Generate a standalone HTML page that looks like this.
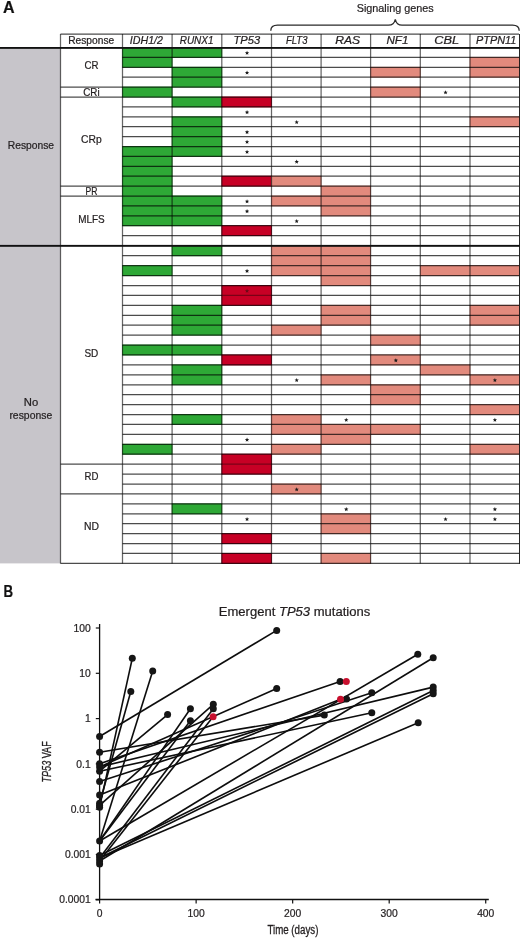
<!DOCTYPE html>
<html><head><meta charset="utf-8"><title>Figure</title>
<style>html,body{margin:0;padding:0;background:#fff;}svg{display:block;will-change:transform;}</style>
</head><body>
<svg width="520" height="938" viewBox="0 0 520 938">
<rect width="520" height="938" fill="#fff"/>
<rect x="0" y="48" width="60.5" height="515.4" fill="#c7c5ca"/>
<rect x="122.10" y="47.00" width="50.40" height="10.90" fill="#2ea836"/>
<rect x="171.70" y="47.00" width="50.50" height="10.90" fill="#2ea836"/>
<rect x="122.10" y="56.90" width="50.40" height="10.90" fill="#2ea836"/>
<rect x="469.60" y="56.90" width="49.80" height="10.90" fill="#e28a7d"/>
<rect x="171.70" y="66.80" width="50.50" height="10.90" fill="#2ea836"/>
<rect x="370.20" y="66.80" width="50.50" height="10.90" fill="#e28a7d"/>
<rect x="469.60" y="66.80" width="49.80" height="10.90" fill="#e28a7d"/>
<rect x="171.70" y="76.70" width="50.50" height="10.90" fill="#2ea836"/>
<rect x="122.10" y="86.60" width="50.40" height="10.90" fill="#2ea836"/>
<rect x="370.20" y="86.60" width="50.50" height="10.90" fill="#e28a7d"/>
<rect x="171.70" y="96.50" width="50.50" height="10.90" fill="#2ea836"/>
<rect x="221.40" y="96.50" width="50.50" height="10.90" fill="#c70025"/>
<rect x="171.70" y="116.30" width="50.50" height="10.90" fill="#2ea836"/>
<rect x="469.60" y="116.30" width="49.80" height="10.90" fill="#e28a7d"/>
<rect x="171.70" y="126.20" width="50.50" height="10.90" fill="#2ea836"/>
<rect x="171.70" y="136.10" width="50.50" height="10.90" fill="#2ea836"/>
<rect x="122.10" y="146.00" width="50.40" height="10.90" fill="#2ea836"/>
<rect x="171.70" y="146.00" width="50.50" height="10.90" fill="#2ea836"/>
<rect x="122.10" y="155.90" width="50.40" height="10.90" fill="#2ea836"/>
<rect x="122.10" y="165.80" width="50.40" height="10.90" fill="#2ea836"/>
<rect x="122.10" y="175.70" width="50.40" height="10.90" fill="#2ea836"/>
<rect x="221.40" y="175.70" width="50.50" height="10.90" fill="#c70025"/>
<rect x="271.10" y="175.70" width="50.40" height="10.90" fill="#e28a7d"/>
<rect x="122.10" y="185.60" width="50.40" height="10.90" fill="#2ea836"/>
<rect x="320.70" y="185.60" width="50.30" height="10.90" fill="#e28a7d"/>
<rect x="122.10" y="195.50" width="50.40" height="10.90" fill="#2ea836"/>
<rect x="171.70" y="195.50" width="50.50" height="10.90" fill="#2ea836"/>
<rect x="271.10" y="195.50" width="50.40" height="10.90" fill="#e28a7d"/>
<rect x="320.70" y="195.50" width="50.30" height="10.90" fill="#e28a7d"/>
<rect x="122.10" y="205.40" width="50.40" height="10.90" fill="#2ea836"/>
<rect x="171.70" y="205.40" width="50.50" height="10.90" fill="#2ea836"/>
<rect x="320.70" y="205.40" width="50.30" height="10.90" fill="#e28a7d"/>
<rect x="122.10" y="215.30" width="50.40" height="10.90" fill="#2ea836"/>
<rect x="171.70" y="215.30" width="50.50" height="10.90" fill="#2ea836"/>
<rect x="221.40" y="225.20" width="50.50" height="10.90" fill="#c70025"/>
<rect x="171.70" y="245.30" width="50.50" height="10.93" fill="#2ea836"/>
<rect x="271.10" y="245.30" width="50.40" height="10.93" fill="#e28a7d"/>
<rect x="320.70" y="245.30" width="50.30" height="10.93" fill="#e28a7d"/>
<rect x="271.10" y="255.23" width="50.40" height="10.93" fill="#e28a7d"/>
<rect x="320.70" y="255.23" width="50.30" height="10.93" fill="#e28a7d"/>
<rect x="122.10" y="265.15" width="50.40" height="10.92" fill="#2ea836"/>
<rect x="271.10" y="265.15" width="50.40" height="10.92" fill="#e28a7d"/>
<rect x="320.70" y="265.15" width="50.30" height="10.92" fill="#e28a7d"/>
<rect x="419.90" y="265.15" width="50.50" height="10.92" fill="#e28a7d"/>
<rect x="469.60" y="265.15" width="49.80" height="10.92" fill="#e28a7d"/>
<rect x="320.70" y="275.07" width="50.30" height="10.93" fill="#e28a7d"/>
<rect x="221.40" y="285.00" width="50.50" height="10.93" fill="#c70025"/>
<rect x="221.40" y="294.93" width="50.50" height="10.93" fill="#c70025"/>
<rect x="171.70" y="304.85" width="50.50" height="10.93" fill="#2ea836"/>
<rect x="320.70" y="304.85" width="50.30" height="10.93" fill="#e28a7d"/>
<rect x="469.60" y="304.85" width="49.80" height="10.93" fill="#e28a7d"/>
<rect x="171.70" y="314.78" width="50.50" height="10.93" fill="#2ea836"/>
<rect x="320.70" y="314.78" width="50.30" height="10.93" fill="#e28a7d"/>
<rect x="469.60" y="314.78" width="49.80" height="10.93" fill="#e28a7d"/>
<rect x="171.70" y="324.70" width="50.50" height="10.92" fill="#2ea836"/>
<rect x="271.10" y="324.70" width="50.40" height="10.92" fill="#e28a7d"/>
<rect x="370.20" y="334.62" width="50.50" height="10.93" fill="#e28a7d"/>
<rect x="122.10" y="344.55" width="50.40" height="10.93" fill="#2ea836"/>
<rect x="171.70" y="344.55" width="50.50" height="10.93" fill="#2ea836"/>
<rect x="221.40" y="354.48" width="50.50" height="10.93" fill="#c70025"/>
<rect x="370.20" y="354.48" width="50.50" height="10.93" fill="#e28a7d"/>
<rect x="171.70" y="364.40" width="50.50" height="10.93" fill="#2ea836"/>
<rect x="419.90" y="364.40" width="50.50" height="10.93" fill="#e28a7d"/>
<rect x="171.70" y="374.33" width="50.50" height="10.92" fill="#2ea836"/>
<rect x="320.70" y="374.33" width="50.30" height="10.92" fill="#e28a7d"/>
<rect x="469.60" y="374.33" width="49.80" height="10.92" fill="#e28a7d"/>
<rect x="370.20" y="384.25" width="50.50" height="10.93" fill="#e28a7d"/>
<rect x="370.20" y="394.18" width="50.50" height="10.93" fill="#e28a7d"/>
<rect x="469.60" y="404.10" width="49.80" height="10.93" fill="#e28a7d"/>
<rect x="171.70" y="414.03" width="50.50" height="10.93" fill="#2ea836"/>
<rect x="271.10" y="414.03" width="50.40" height="10.93" fill="#e28a7d"/>
<rect x="271.10" y="423.95" width="50.40" height="10.92" fill="#e28a7d"/>
<rect x="320.70" y="423.95" width="50.30" height="10.92" fill="#e28a7d"/>
<rect x="370.20" y="423.95" width="50.50" height="10.92" fill="#e28a7d"/>
<rect x="320.70" y="433.88" width="50.30" height="10.93" fill="#e28a7d"/>
<rect x="122.10" y="443.80" width="50.40" height="10.93" fill="#2ea836"/>
<rect x="271.10" y="443.80" width="50.40" height="10.93" fill="#e28a7d"/>
<rect x="469.60" y="443.80" width="49.80" height="10.93" fill="#e28a7d"/>
<rect x="221.40" y="453.73" width="50.50" height="10.93" fill="#c70025"/>
<rect x="221.40" y="463.65" width="50.50" height="10.93" fill="#c70025"/>
<rect x="271.10" y="483.50" width="50.40" height="10.93" fill="#e28a7d"/>
<rect x="171.70" y="503.35" width="50.50" height="10.93" fill="#2ea836"/>
<rect x="320.70" y="513.28" width="50.30" height="10.92" fill="#e28a7d"/>
<rect x="320.70" y="523.20" width="50.30" height="10.92" fill="#e28a7d"/>
<rect x="221.40" y="533.12" width="50.50" height="10.92" fill="#c70025"/>
<rect x="221.40" y="552.98" width="50.50" height="10.93" fill="#c70025"/>
<rect x="320.70" y="552.98" width="50.30" height="10.93" fill="#e28a7d"/>
<line x1="122.50" y1="57.40" x2="172.10" y2="57.40" stroke="rgba(0,0,0,0.7)" stroke-width="1.25"/>
<line x1="172.10" y1="57.40" x2="221.80" y2="57.40" stroke="rgba(0,0,0,0.7)" stroke-width="1.25"/>
<line x1="221.80" y1="57.40" x2="271.50" y2="57.40" stroke="rgba(0,0,0,0.7)" stroke-width="1.25"/>
<line x1="271.50" y1="57.40" x2="321.10" y2="57.40" stroke="rgba(0,0,0,0.7)" stroke-width="1.25"/>
<line x1="321.10" y1="57.40" x2="370.60" y2="57.40" stroke="rgba(0,0,0,0.7)" stroke-width="1.25"/>
<line x1="370.60" y1="57.40" x2="420.30" y2="57.40" stroke="rgba(0,0,0,0.7)" stroke-width="1.25"/>
<line x1="420.30" y1="57.40" x2="470.00" y2="57.40" stroke="rgba(0,0,0,0.7)" stroke-width="1.25"/>
<line x1="470.00" y1="57.40" x2="519.00" y2="57.40" stroke="rgba(0,0,0,0.7)" stroke-width="1.25"/>
<line x1="122.50" y1="67.30" x2="172.10" y2="67.30" stroke="rgba(0,0,0,0.7)" stroke-width="1.25"/>
<line x1="172.10" y1="67.30" x2="221.80" y2="67.30" stroke="rgba(0,0,0,0.7)" stroke-width="1.25"/>
<line x1="221.80" y1="67.30" x2="271.50" y2="67.30" stroke="rgba(0,0,0,0.7)" stroke-width="1.25"/>
<line x1="271.50" y1="67.30" x2="321.10" y2="67.30" stroke="rgba(0,0,0,0.7)" stroke-width="1.25"/>
<line x1="321.10" y1="67.30" x2="370.60" y2="67.30" stroke="rgba(0,0,0,0.7)" stroke-width="1.25"/>
<line x1="370.60" y1="67.30" x2="420.30" y2="67.30" stroke="rgba(0,0,0,0.7)" stroke-width="1.25"/>
<line x1="420.30" y1="67.30" x2="470.00" y2="67.30" stroke="rgba(0,0,0,0.7)" stroke-width="1.25"/>
<line x1="470.00" y1="67.30" x2="519.00" y2="67.30" stroke="rgba(0,0,0,0.7)" stroke-width="1.25"/>
<line x1="122.50" y1="77.20" x2="172.10" y2="77.20" stroke="rgba(0,0,0,0.7)" stroke-width="1.25"/>
<line x1="172.10" y1="77.20" x2="221.80" y2="77.20" stroke="rgba(0,0,0,0.7)" stroke-width="1.25"/>
<line x1="221.80" y1="77.20" x2="271.50" y2="77.20" stroke="rgba(0,0,0,0.7)" stroke-width="1.25"/>
<line x1="271.50" y1="77.20" x2="321.10" y2="77.20" stroke="rgba(0,0,0,0.7)" stroke-width="1.25"/>
<line x1="321.10" y1="77.20" x2="370.60" y2="77.20" stroke="rgba(0,0,0,0.7)" stroke-width="1.25"/>
<line x1="370.60" y1="77.20" x2="420.30" y2="77.20" stroke="rgba(0,0,0,0.7)" stroke-width="1.25"/>
<line x1="420.30" y1="77.20" x2="470.00" y2="77.20" stroke="rgba(0,0,0,0.7)" stroke-width="1.25"/>
<line x1="470.00" y1="77.20" x2="519.00" y2="77.20" stroke="rgba(0,0,0,0.7)" stroke-width="1.25"/>
<line x1="122.50" y1="87.10" x2="172.10" y2="87.10" stroke="rgba(0,0,0,0.7)" stroke-width="1.25"/>
<line x1="172.10" y1="87.10" x2="221.80" y2="87.10" stroke="rgba(0,0,0,0.7)" stroke-width="1.25"/>
<line x1="221.80" y1="87.10" x2="271.50" y2="87.10" stroke="rgba(0,0,0,0.7)" stroke-width="1.25"/>
<line x1="271.50" y1="87.10" x2="321.10" y2="87.10" stroke="rgba(0,0,0,0.7)" stroke-width="1.25"/>
<line x1="321.10" y1="87.10" x2="370.60" y2="87.10" stroke="rgba(0,0,0,0.7)" stroke-width="1.25"/>
<line x1="370.60" y1="87.10" x2="420.30" y2="87.10" stroke="rgba(0,0,0,0.7)" stroke-width="1.25"/>
<line x1="420.30" y1="87.10" x2="470.00" y2="87.10" stroke="rgba(0,0,0,0.7)" stroke-width="1.25"/>
<line x1="470.00" y1="87.10" x2="519.00" y2="87.10" stroke="rgba(0,0,0,0.7)" stroke-width="1.25"/>
<line x1="122.50" y1="97.00" x2="172.10" y2="97.00" stroke="rgba(0,0,0,0.7)" stroke-width="1.25"/>
<line x1="172.10" y1="97.00" x2="221.80" y2="97.00" stroke="rgba(0,0,0,0.7)" stroke-width="1.25"/>
<line x1="221.80" y1="97.00" x2="271.50" y2="97.00" stroke="rgba(0,0,0,0.7)" stroke-width="1.25"/>
<line x1="271.50" y1="97.00" x2="321.10" y2="97.00" stroke="rgba(0,0,0,0.7)" stroke-width="1.25"/>
<line x1="321.10" y1="97.00" x2="370.60" y2="97.00" stroke="rgba(0,0,0,0.7)" stroke-width="1.25"/>
<line x1="370.60" y1="97.00" x2="420.30" y2="97.00" stroke="rgba(0,0,0,0.7)" stroke-width="1.25"/>
<line x1="420.30" y1="97.00" x2="470.00" y2="97.00" stroke="rgba(0,0,0,0.7)" stroke-width="1.25"/>
<line x1="470.00" y1="97.00" x2="519.00" y2="97.00" stroke="rgba(0,0,0,0.7)" stroke-width="1.25"/>
<line x1="122.50" y1="106.90" x2="172.10" y2="106.90" stroke="rgba(0,0,0,0.7)" stroke-width="1.25"/>
<line x1="172.10" y1="106.90" x2="221.80" y2="106.90" stroke="rgba(0,0,0,0.7)" stroke-width="1.25"/>
<line x1="221.80" y1="106.90" x2="271.50" y2="106.90" stroke="rgba(0,0,0,0.7)" stroke-width="1.25"/>
<line x1="271.50" y1="106.90" x2="321.10" y2="106.90" stroke="rgba(0,0,0,0.7)" stroke-width="1.25"/>
<line x1="321.10" y1="106.90" x2="370.60" y2="106.90" stroke="rgba(0,0,0,0.7)" stroke-width="1.25"/>
<line x1="370.60" y1="106.90" x2="420.30" y2="106.90" stroke="rgba(0,0,0,0.7)" stroke-width="1.25"/>
<line x1="420.30" y1="106.90" x2="470.00" y2="106.90" stroke="rgba(0,0,0,0.7)" stroke-width="1.25"/>
<line x1="470.00" y1="106.90" x2="519.00" y2="106.90" stroke="rgba(0,0,0,0.7)" stroke-width="1.25"/>
<line x1="122.50" y1="116.80" x2="172.10" y2="116.80" stroke="rgba(0,0,0,0.7)" stroke-width="1.25"/>
<line x1="172.10" y1="116.80" x2="221.80" y2="116.80" stroke="rgba(0,0,0,0.7)" stroke-width="1.25"/>
<line x1="221.80" y1="116.80" x2="271.50" y2="116.80" stroke="rgba(0,0,0,0.7)" stroke-width="1.25"/>
<line x1="271.50" y1="116.80" x2="321.10" y2="116.80" stroke="rgba(0,0,0,0.7)" stroke-width="1.25"/>
<line x1="321.10" y1="116.80" x2="370.60" y2="116.80" stroke="rgba(0,0,0,0.7)" stroke-width="1.25"/>
<line x1="370.60" y1="116.80" x2="420.30" y2="116.80" stroke="rgba(0,0,0,0.7)" stroke-width="1.25"/>
<line x1="420.30" y1="116.80" x2="470.00" y2="116.80" stroke="rgba(0,0,0,0.7)" stroke-width="1.25"/>
<line x1="470.00" y1="116.80" x2="519.00" y2="116.80" stroke="rgba(0,0,0,0.7)" stroke-width="1.25"/>
<line x1="122.50" y1="126.70" x2="172.10" y2="126.70" stroke="rgba(0,0,0,0.7)" stroke-width="1.25"/>
<line x1="172.10" y1="126.70" x2="221.80" y2="126.70" stroke="rgba(0,0,0,0.7)" stroke-width="1.25"/>
<line x1="221.80" y1="126.70" x2="271.50" y2="126.70" stroke="rgba(0,0,0,0.7)" stroke-width="1.25"/>
<line x1="271.50" y1="126.70" x2="321.10" y2="126.70" stroke="rgba(0,0,0,0.7)" stroke-width="1.25"/>
<line x1="321.10" y1="126.70" x2="370.60" y2="126.70" stroke="rgba(0,0,0,0.7)" stroke-width="1.25"/>
<line x1="370.60" y1="126.70" x2="420.30" y2="126.70" stroke="rgba(0,0,0,0.7)" stroke-width="1.25"/>
<line x1="420.30" y1="126.70" x2="470.00" y2="126.70" stroke="rgba(0,0,0,0.7)" stroke-width="1.25"/>
<line x1="470.00" y1="126.70" x2="519.00" y2="126.70" stroke="rgba(0,0,0,0.7)" stroke-width="1.25"/>
<line x1="122.50" y1="136.60" x2="172.10" y2="136.60" stroke="rgba(0,0,0,0.7)" stroke-width="1.25"/>
<line x1="172.10" y1="136.60" x2="221.80" y2="136.60" stroke="rgba(0,0,0,0.7)" stroke-width="1.25"/>
<line x1="221.80" y1="136.60" x2="271.50" y2="136.60" stroke="rgba(0,0,0,0.7)" stroke-width="1.25"/>
<line x1="271.50" y1="136.60" x2="321.10" y2="136.60" stroke="rgba(0,0,0,0.7)" stroke-width="1.25"/>
<line x1="321.10" y1="136.60" x2="370.60" y2="136.60" stroke="rgba(0,0,0,0.7)" stroke-width="1.25"/>
<line x1="370.60" y1="136.60" x2="420.30" y2="136.60" stroke="rgba(0,0,0,0.7)" stroke-width="1.25"/>
<line x1="420.30" y1="136.60" x2="470.00" y2="136.60" stroke="rgba(0,0,0,0.7)" stroke-width="1.25"/>
<line x1="470.00" y1="136.60" x2="519.00" y2="136.60" stroke="rgba(0,0,0,0.7)" stroke-width="1.25"/>
<line x1="122.50" y1="146.50" x2="172.10" y2="146.50" stroke="rgba(0,0,0,0.7)" stroke-width="1.25"/>
<line x1="172.10" y1="146.50" x2="221.80" y2="146.50" stroke="rgba(0,0,0,0.7)" stroke-width="1.25"/>
<line x1="221.80" y1="146.50" x2="271.50" y2="146.50" stroke="rgba(0,0,0,0.7)" stroke-width="1.25"/>
<line x1="271.50" y1="146.50" x2="321.10" y2="146.50" stroke="rgba(0,0,0,0.7)" stroke-width="1.25"/>
<line x1="321.10" y1="146.50" x2="370.60" y2="146.50" stroke="rgba(0,0,0,0.7)" stroke-width="1.25"/>
<line x1="370.60" y1="146.50" x2="420.30" y2="146.50" stroke="rgba(0,0,0,0.7)" stroke-width="1.25"/>
<line x1="420.30" y1="146.50" x2="470.00" y2="146.50" stroke="rgba(0,0,0,0.7)" stroke-width="1.25"/>
<line x1="470.00" y1="146.50" x2="519.00" y2="146.50" stroke="rgba(0,0,0,0.7)" stroke-width="1.25"/>
<line x1="122.50" y1="156.40" x2="172.10" y2="156.40" stroke="rgba(0,0,0,0.7)" stroke-width="1.25"/>
<line x1="172.10" y1="156.40" x2="221.80" y2="156.40" stroke="rgba(0,0,0,0.7)" stroke-width="1.25"/>
<line x1="221.80" y1="156.40" x2="271.50" y2="156.40" stroke="rgba(0,0,0,0.7)" stroke-width="1.25"/>
<line x1="271.50" y1="156.40" x2="321.10" y2="156.40" stroke="rgba(0,0,0,0.7)" stroke-width="1.25"/>
<line x1="321.10" y1="156.40" x2="370.60" y2="156.40" stroke="rgba(0,0,0,0.7)" stroke-width="1.25"/>
<line x1="370.60" y1="156.40" x2="420.30" y2="156.40" stroke="rgba(0,0,0,0.7)" stroke-width="1.25"/>
<line x1="420.30" y1="156.40" x2="470.00" y2="156.40" stroke="rgba(0,0,0,0.7)" stroke-width="1.25"/>
<line x1="470.00" y1="156.40" x2="519.00" y2="156.40" stroke="rgba(0,0,0,0.7)" stroke-width="1.25"/>
<line x1="122.50" y1="166.30" x2="172.10" y2="166.30" stroke="rgba(0,0,0,0.7)" stroke-width="1.25"/>
<line x1="172.10" y1="166.30" x2="221.80" y2="166.30" stroke="rgba(0,0,0,0.7)" stroke-width="1.25"/>
<line x1="221.80" y1="166.30" x2="271.50" y2="166.30" stroke="rgba(0,0,0,0.7)" stroke-width="1.25"/>
<line x1="271.50" y1="166.30" x2="321.10" y2="166.30" stroke="rgba(0,0,0,0.7)" stroke-width="1.25"/>
<line x1="321.10" y1="166.30" x2="370.60" y2="166.30" stroke="rgba(0,0,0,0.7)" stroke-width="1.25"/>
<line x1="370.60" y1="166.30" x2="420.30" y2="166.30" stroke="rgba(0,0,0,0.7)" stroke-width="1.25"/>
<line x1="420.30" y1="166.30" x2="470.00" y2="166.30" stroke="rgba(0,0,0,0.7)" stroke-width="1.25"/>
<line x1="470.00" y1="166.30" x2="519.00" y2="166.30" stroke="rgba(0,0,0,0.7)" stroke-width="1.25"/>
<line x1="122.50" y1="176.20" x2="172.10" y2="176.20" stroke="rgba(0,0,0,0.7)" stroke-width="1.25"/>
<line x1="172.10" y1="176.20" x2="221.80" y2="176.20" stroke="rgba(0,0,0,0.7)" stroke-width="1.25"/>
<line x1="221.80" y1="176.20" x2="271.50" y2="176.20" stroke="rgba(0,0,0,0.7)" stroke-width="1.25"/>
<line x1="271.50" y1="176.20" x2="321.10" y2="176.20" stroke="rgba(0,0,0,0.7)" stroke-width="1.25"/>
<line x1="321.10" y1="176.20" x2="370.60" y2="176.20" stroke="rgba(0,0,0,0.7)" stroke-width="1.25"/>
<line x1="370.60" y1="176.20" x2="420.30" y2="176.20" stroke="rgba(0,0,0,0.7)" stroke-width="1.25"/>
<line x1="420.30" y1="176.20" x2="470.00" y2="176.20" stroke="rgba(0,0,0,0.7)" stroke-width="1.25"/>
<line x1="470.00" y1="176.20" x2="519.00" y2="176.20" stroke="rgba(0,0,0,0.7)" stroke-width="1.25"/>
<line x1="122.50" y1="186.10" x2="172.10" y2="186.10" stroke="rgba(0,0,0,0.7)" stroke-width="1.25"/>
<line x1="172.10" y1="186.10" x2="221.80" y2="186.10" stroke="rgba(0,0,0,0.7)" stroke-width="1.25"/>
<line x1="221.80" y1="186.10" x2="271.50" y2="186.10" stroke="rgba(0,0,0,0.7)" stroke-width="1.25"/>
<line x1="271.50" y1="186.10" x2="321.10" y2="186.10" stroke="rgba(0,0,0,0.7)" stroke-width="1.25"/>
<line x1="321.10" y1="186.10" x2="370.60" y2="186.10" stroke="rgba(0,0,0,0.7)" stroke-width="1.25"/>
<line x1="370.60" y1="186.10" x2="420.30" y2="186.10" stroke="rgba(0,0,0,0.7)" stroke-width="1.25"/>
<line x1="420.30" y1="186.10" x2="470.00" y2="186.10" stroke="rgba(0,0,0,0.7)" stroke-width="1.25"/>
<line x1="470.00" y1="186.10" x2="519.00" y2="186.10" stroke="rgba(0,0,0,0.7)" stroke-width="1.25"/>
<line x1="122.50" y1="196.00" x2="172.10" y2="196.00" stroke="rgba(0,0,0,0.7)" stroke-width="1.25"/>
<line x1="172.10" y1="196.00" x2="221.80" y2="196.00" stroke="rgba(0,0,0,0.7)" stroke-width="1.25"/>
<line x1="221.80" y1="196.00" x2="271.50" y2="196.00" stroke="rgba(0,0,0,0.7)" stroke-width="1.25"/>
<line x1="271.50" y1="196.00" x2="321.10" y2="196.00" stroke="rgba(0,0,0,0.7)" stroke-width="1.25"/>
<line x1="321.10" y1="196.00" x2="370.60" y2="196.00" stroke="rgba(0,0,0,0.7)" stroke-width="1.25"/>
<line x1="370.60" y1="196.00" x2="420.30" y2="196.00" stroke="rgba(0,0,0,0.7)" stroke-width="1.25"/>
<line x1="420.30" y1="196.00" x2="470.00" y2="196.00" stroke="rgba(0,0,0,0.7)" stroke-width="1.25"/>
<line x1="470.00" y1="196.00" x2="519.00" y2="196.00" stroke="rgba(0,0,0,0.7)" stroke-width="1.25"/>
<line x1="122.50" y1="205.90" x2="172.10" y2="205.90" stroke="rgba(0,0,0,0.7)" stroke-width="1.25"/>
<line x1="172.10" y1="205.90" x2="221.80" y2="205.90" stroke="rgba(0,0,0,0.7)" stroke-width="1.25"/>
<line x1="221.80" y1="205.90" x2="271.50" y2="205.90" stroke="rgba(0,0,0,0.7)" stroke-width="1.25"/>
<line x1="271.50" y1="205.90" x2="321.10" y2="205.90" stroke="rgba(0,0,0,0.7)" stroke-width="1.25"/>
<line x1="321.10" y1="205.90" x2="370.60" y2="205.90" stroke="rgba(0,0,0,0.7)" stroke-width="1.25"/>
<line x1="370.60" y1="205.90" x2="420.30" y2="205.90" stroke="rgba(0,0,0,0.7)" stroke-width="1.25"/>
<line x1="420.30" y1="205.90" x2="470.00" y2="205.90" stroke="rgba(0,0,0,0.7)" stroke-width="1.25"/>
<line x1="470.00" y1="205.90" x2="519.00" y2="205.90" stroke="rgba(0,0,0,0.7)" stroke-width="1.25"/>
<line x1="122.50" y1="215.80" x2="172.10" y2="215.80" stroke="rgba(0,0,0,0.7)" stroke-width="1.25"/>
<line x1="172.10" y1="215.80" x2="221.80" y2="215.80" stroke="rgba(0,0,0,0.7)" stroke-width="1.25"/>
<line x1="221.80" y1="215.80" x2="271.50" y2="215.80" stroke="rgba(0,0,0,0.7)" stroke-width="1.25"/>
<line x1="271.50" y1="215.80" x2="321.10" y2="215.80" stroke="rgba(0,0,0,0.7)" stroke-width="1.25"/>
<line x1="321.10" y1="215.80" x2="370.60" y2="215.80" stroke="rgba(0,0,0,0.7)" stroke-width="1.25"/>
<line x1="370.60" y1="215.80" x2="420.30" y2="215.80" stroke="rgba(0,0,0,0.7)" stroke-width="1.25"/>
<line x1="420.30" y1="215.80" x2="470.00" y2="215.80" stroke="rgba(0,0,0,0.7)" stroke-width="1.25"/>
<line x1="470.00" y1="215.80" x2="519.00" y2="215.80" stroke="rgba(0,0,0,0.7)" stroke-width="1.25"/>
<line x1="122.50" y1="225.70" x2="172.10" y2="225.70" stroke="rgba(0,0,0,0.7)" stroke-width="1.25"/>
<line x1="172.10" y1="225.70" x2="221.80" y2="225.70" stroke="rgba(0,0,0,0.7)" stroke-width="1.25"/>
<line x1="221.80" y1="225.70" x2="271.50" y2="225.70" stroke="rgba(0,0,0,0.7)" stroke-width="1.25"/>
<line x1="271.50" y1="225.70" x2="321.10" y2="225.70" stroke="rgba(0,0,0,0.7)" stroke-width="1.25"/>
<line x1="321.10" y1="225.70" x2="370.60" y2="225.70" stroke="rgba(0,0,0,0.7)" stroke-width="1.25"/>
<line x1="370.60" y1="225.70" x2="420.30" y2="225.70" stroke="rgba(0,0,0,0.7)" stroke-width="1.25"/>
<line x1="420.30" y1="225.70" x2="470.00" y2="225.70" stroke="rgba(0,0,0,0.7)" stroke-width="1.25"/>
<line x1="470.00" y1="225.70" x2="519.00" y2="225.70" stroke="rgba(0,0,0,0.7)" stroke-width="1.25"/>
<line x1="122.50" y1="235.60" x2="172.10" y2="235.60" stroke="rgba(0,0,0,0.7)" stroke-width="1.25"/>
<line x1="172.10" y1="235.60" x2="221.80" y2="235.60" stroke="rgba(0,0,0,0.7)" stroke-width="1.25"/>
<line x1="221.80" y1="235.60" x2="271.50" y2="235.60" stroke="rgba(0,0,0,0.7)" stroke-width="1.25"/>
<line x1="271.50" y1="235.60" x2="321.10" y2="235.60" stroke="rgba(0,0,0,0.7)" stroke-width="1.25"/>
<line x1="321.10" y1="235.60" x2="370.60" y2="235.60" stroke="rgba(0,0,0,0.7)" stroke-width="1.25"/>
<line x1="370.60" y1="235.60" x2="420.30" y2="235.60" stroke="rgba(0,0,0,0.7)" stroke-width="1.25"/>
<line x1="420.30" y1="235.60" x2="470.00" y2="235.60" stroke="rgba(0,0,0,0.7)" stroke-width="1.25"/>
<line x1="470.00" y1="235.60" x2="519.00" y2="235.60" stroke="rgba(0,0,0,0.7)" stroke-width="1.25"/>
<line x1="122.50" y1="255.73" x2="172.10" y2="255.73" stroke="rgba(0,0,0,0.7)" stroke-width="1.25"/>
<line x1="172.10" y1="255.73" x2="221.80" y2="255.73" stroke="rgba(0,0,0,0.7)" stroke-width="1.25"/>
<line x1="221.80" y1="255.73" x2="271.50" y2="255.73" stroke="rgba(0,0,0,0.7)" stroke-width="1.25"/>
<line x1="271.50" y1="255.73" x2="321.10" y2="255.73" stroke="rgba(0,0,0,0.7)" stroke-width="1.25"/>
<line x1="321.10" y1="255.73" x2="370.60" y2="255.73" stroke="rgba(0,0,0,0.7)" stroke-width="1.25"/>
<line x1="370.60" y1="255.73" x2="420.30" y2="255.73" stroke="rgba(0,0,0,0.7)" stroke-width="1.25"/>
<line x1="420.30" y1="255.73" x2="470.00" y2="255.73" stroke="rgba(0,0,0,0.7)" stroke-width="1.25"/>
<line x1="470.00" y1="255.73" x2="519.00" y2="255.73" stroke="rgba(0,0,0,0.7)" stroke-width="1.25"/>
<line x1="122.50" y1="265.65" x2="172.10" y2="265.65" stroke="rgba(0,0,0,0.7)" stroke-width="1.25"/>
<line x1="172.10" y1="265.65" x2="221.80" y2="265.65" stroke="rgba(0,0,0,0.7)" stroke-width="1.25"/>
<line x1="221.80" y1="265.65" x2="271.50" y2="265.65" stroke="rgba(0,0,0,0.7)" stroke-width="1.25"/>
<line x1="271.50" y1="265.65" x2="321.10" y2="265.65" stroke="rgba(0,0,0,0.7)" stroke-width="1.25"/>
<line x1="321.10" y1="265.65" x2="370.60" y2="265.65" stroke="rgba(0,0,0,0.7)" stroke-width="1.25"/>
<line x1="370.60" y1="265.65" x2="420.30" y2="265.65" stroke="rgba(0,0,0,0.7)" stroke-width="1.25"/>
<line x1="420.30" y1="265.65" x2="470.00" y2="265.65" stroke="rgba(0,0,0,0.7)" stroke-width="1.25"/>
<line x1="470.00" y1="265.65" x2="519.00" y2="265.65" stroke="rgba(0,0,0,0.7)" stroke-width="1.25"/>
<line x1="122.50" y1="275.57" x2="172.10" y2="275.57" stroke="rgba(0,0,0,0.7)" stroke-width="1.25"/>
<line x1="172.10" y1="275.57" x2="221.80" y2="275.57" stroke="rgba(0,0,0,0.7)" stroke-width="1.25"/>
<line x1="221.80" y1="275.57" x2="271.50" y2="275.57" stroke="rgba(0,0,0,0.7)" stroke-width="1.25"/>
<line x1="271.50" y1="275.57" x2="321.10" y2="275.57" stroke="rgba(0,0,0,0.7)" stroke-width="1.25"/>
<line x1="321.10" y1="275.57" x2="370.60" y2="275.57" stroke="rgba(0,0,0,0.7)" stroke-width="1.25"/>
<line x1="370.60" y1="275.57" x2="420.30" y2="275.57" stroke="rgba(0,0,0,0.7)" stroke-width="1.25"/>
<line x1="420.30" y1="275.57" x2="470.00" y2="275.57" stroke="rgba(0,0,0,0.7)" stroke-width="1.25"/>
<line x1="470.00" y1="275.57" x2="519.00" y2="275.57" stroke="rgba(0,0,0,0.7)" stroke-width="1.25"/>
<line x1="122.50" y1="285.50" x2="172.10" y2="285.50" stroke="rgba(0,0,0,0.7)" stroke-width="1.25"/>
<line x1="172.10" y1="285.50" x2="221.80" y2="285.50" stroke="rgba(0,0,0,0.7)" stroke-width="1.25"/>
<line x1="221.80" y1="285.50" x2="271.50" y2="285.50" stroke="rgba(0,0,0,0.7)" stroke-width="1.25"/>
<line x1="271.50" y1="285.50" x2="321.10" y2="285.50" stroke="rgba(0,0,0,0.7)" stroke-width="1.25"/>
<line x1="321.10" y1="285.50" x2="370.60" y2="285.50" stroke="rgba(0,0,0,0.7)" stroke-width="1.25"/>
<line x1="370.60" y1="285.50" x2="420.30" y2="285.50" stroke="rgba(0,0,0,0.7)" stroke-width="1.25"/>
<line x1="420.30" y1="285.50" x2="470.00" y2="285.50" stroke="rgba(0,0,0,0.7)" stroke-width="1.25"/>
<line x1="470.00" y1="285.50" x2="519.00" y2="285.50" stroke="rgba(0,0,0,0.7)" stroke-width="1.25"/>
<line x1="122.50" y1="295.43" x2="172.10" y2="295.43" stroke="rgba(0,0,0,0.7)" stroke-width="1.25"/>
<line x1="172.10" y1="295.43" x2="221.80" y2="295.43" stroke="rgba(0,0,0,0.7)" stroke-width="1.25"/>
<line x1="221.80" y1="295.43" x2="271.50" y2="295.43" stroke="rgba(0,0,0,0.38)" stroke-width="1.25"/>
<line x1="271.50" y1="295.43" x2="321.10" y2="295.43" stroke="rgba(0,0,0,0.7)" stroke-width="1.25"/>
<line x1="321.10" y1="295.43" x2="370.60" y2="295.43" stroke="rgba(0,0,0,0.7)" stroke-width="1.25"/>
<line x1="370.60" y1="295.43" x2="420.30" y2="295.43" stroke="rgba(0,0,0,0.7)" stroke-width="1.25"/>
<line x1="420.30" y1="295.43" x2="470.00" y2="295.43" stroke="rgba(0,0,0,0.7)" stroke-width="1.25"/>
<line x1="470.00" y1="295.43" x2="519.00" y2="295.43" stroke="rgba(0,0,0,0.7)" stroke-width="1.25"/>
<line x1="122.50" y1="305.35" x2="172.10" y2="305.35" stroke="rgba(0,0,0,0.7)" stroke-width="1.25"/>
<line x1="172.10" y1="305.35" x2="221.80" y2="305.35" stroke="rgba(0,0,0,0.7)" stroke-width="1.25"/>
<line x1="221.80" y1="305.35" x2="271.50" y2="305.35" stroke="rgba(0,0,0,0.7)" stroke-width="1.25"/>
<line x1="271.50" y1="305.35" x2="321.10" y2="305.35" stroke="rgba(0,0,0,0.7)" stroke-width="1.25"/>
<line x1="321.10" y1="305.35" x2="370.60" y2="305.35" stroke="rgba(0,0,0,0.7)" stroke-width="1.25"/>
<line x1="370.60" y1="305.35" x2="420.30" y2="305.35" stroke="rgba(0,0,0,0.7)" stroke-width="1.25"/>
<line x1="420.30" y1="305.35" x2="470.00" y2="305.35" stroke="rgba(0,0,0,0.7)" stroke-width="1.25"/>
<line x1="470.00" y1="305.35" x2="519.00" y2="305.35" stroke="rgba(0,0,0,0.7)" stroke-width="1.25"/>
<line x1="122.50" y1="315.28" x2="172.10" y2="315.28" stroke="rgba(0,0,0,0.7)" stroke-width="1.25"/>
<line x1="172.10" y1="315.28" x2="221.80" y2="315.28" stroke="rgba(0,0,0,0.7)" stroke-width="1.25"/>
<line x1="221.80" y1="315.28" x2="271.50" y2="315.28" stroke="rgba(0,0,0,0.7)" stroke-width="1.25"/>
<line x1="271.50" y1="315.28" x2="321.10" y2="315.28" stroke="rgba(0,0,0,0.7)" stroke-width="1.25"/>
<line x1="321.10" y1="315.28" x2="370.60" y2="315.28" stroke="rgba(0,0,0,0.7)" stroke-width="1.25"/>
<line x1="370.60" y1="315.28" x2="420.30" y2="315.28" stroke="rgba(0,0,0,0.7)" stroke-width="1.25"/>
<line x1="420.30" y1="315.28" x2="470.00" y2="315.28" stroke="rgba(0,0,0,0.7)" stroke-width="1.25"/>
<line x1="470.00" y1="315.28" x2="519.00" y2="315.28" stroke="rgba(0,0,0,0.7)" stroke-width="1.25"/>
<line x1="122.50" y1="325.20" x2="172.10" y2="325.20" stroke="rgba(0,0,0,0.7)" stroke-width="1.25"/>
<line x1="172.10" y1="325.20" x2="221.80" y2="325.20" stroke="rgba(0,0,0,0.7)" stroke-width="1.25"/>
<line x1="221.80" y1="325.20" x2="271.50" y2="325.20" stroke="rgba(0,0,0,0.7)" stroke-width="1.25"/>
<line x1="271.50" y1="325.20" x2="321.10" y2="325.20" stroke="rgba(0,0,0,0.7)" stroke-width="1.25"/>
<line x1="321.10" y1="325.20" x2="370.60" y2="325.20" stroke="rgba(0,0,0,0.7)" stroke-width="1.25"/>
<line x1="370.60" y1="325.20" x2="420.30" y2="325.20" stroke="rgba(0,0,0,0.7)" stroke-width="1.25"/>
<line x1="420.30" y1="325.20" x2="470.00" y2="325.20" stroke="rgba(0,0,0,0.7)" stroke-width="1.25"/>
<line x1="470.00" y1="325.20" x2="519.00" y2="325.20" stroke="rgba(0,0,0,0.7)" stroke-width="1.25"/>
<line x1="122.50" y1="335.12" x2="172.10" y2="335.12" stroke="rgba(0,0,0,0.7)" stroke-width="1.25"/>
<line x1="172.10" y1="335.12" x2="221.80" y2="335.12" stroke="rgba(0,0,0,0.7)" stroke-width="1.25"/>
<line x1="221.80" y1="335.12" x2="271.50" y2="335.12" stroke="rgba(0,0,0,0.7)" stroke-width="1.25"/>
<line x1="271.50" y1="335.12" x2="321.10" y2="335.12" stroke="rgba(0,0,0,0.7)" stroke-width="1.25"/>
<line x1="321.10" y1="335.12" x2="370.60" y2="335.12" stroke="rgba(0,0,0,0.7)" stroke-width="1.25"/>
<line x1="370.60" y1="335.12" x2="420.30" y2="335.12" stroke="rgba(0,0,0,0.7)" stroke-width="1.25"/>
<line x1="420.30" y1="335.12" x2="470.00" y2="335.12" stroke="rgba(0,0,0,0.7)" stroke-width="1.25"/>
<line x1="470.00" y1="335.12" x2="519.00" y2="335.12" stroke="rgba(0,0,0,0.7)" stroke-width="1.25"/>
<line x1="122.50" y1="345.05" x2="172.10" y2="345.05" stroke="rgba(0,0,0,0.7)" stroke-width="1.25"/>
<line x1="172.10" y1="345.05" x2="221.80" y2="345.05" stroke="rgba(0,0,0,0.7)" stroke-width="1.25"/>
<line x1="221.80" y1="345.05" x2="271.50" y2="345.05" stroke="rgba(0,0,0,0.7)" stroke-width="1.25"/>
<line x1="271.50" y1="345.05" x2="321.10" y2="345.05" stroke="rgba(0,0,0,0.7)" stroke-width="1.25"/>
<line x1="321.10" y1="345.05" x2="370.60" y2="345.05" stroke="rgba(0,0,0,0.7)" stroke-width="1.25"/>
<line x1="370.60" y1="345.05" x2="420.30" y2="345.05" stroke="rgba(0,0,0,0.7)" stroke-width="1.25"/>
<line x1="420.30" y1="345.05" x2="470.00" y2="345.05" stroke="rgba(0,0,0,0.7)" stroke-width="1.25"/>
<line x1="470.00" y1="345.05" x2="519.00" y2="345.05" stroke="rgba(0,0,0,0.7)" stroke-width="1.25"/>
<line x1="122.50" y1="354.98" x2="172.10" y2="354.98" stroke="rgba(0,0,0,0.7)" stroke-width="1.25"/>
<line x1="172.10" y1="354.98" x2="221.80" y2="354.98" stroke="rgba(0,0,0,0.7)" stroke-width="1.25"/>
<line x1="221.80" y1="354.98" x2="271.50" y2="354.98" stroke="rgba(0,0,0,0.7)" stroke-width="1.25"/>
<line x1="271.50" y1="354.98" x2="321.10" y2="354.98" stroke="rgba(0,0,0,0.7)" stroke-width="1.25"/>
<line x1="321.10" y1="354.98" x2="370.60" y2="354.98" stroke="rgba(0,0,0,0.7)" stroke-width="1.25"/>
<line x1="370.60" y1="354.98" x2="420.30" y2="354.98" stroke="rgba(0,0,0,0.7)" stroke-width="1.25"/>
<line x1="420.30" y1="354.98" x2="470.00" y2="354.98" stroke="rgba(0,0,0,0.7)" stroke-width="1.25"/>
<line x1="470.00" y1="354.98" x2="519.00" y2="354.98" stroke="rgba(0,0,0,0.7)" stroke-width="1.25"/>
<line x1="122.50" y1="364.90" x2="172.10" y2="364.90" stroke="rgba(0,0,0,0.7)" stroke-width="1.25"/>
<line x1="172.10" y1="364.90" x2="221.80" y2="364.90" stroke="rgba(0,0,0,0.7)" stroke-width="1.25"/>
<line x1="221.80" y1="364.90" x2="271.50" y2="364.90" stroke="rgba(0,0,0,0.7)" stroke-width="1.25"/>
<line x1="271.50" y1="364.90" x2="321.10" y2="364.90" stroke="rgba(0,0,0,0.7)" stroke-width="1.25"/>
<line x1="321.10" y1="364.90" x2="370.60" y2="364.90" stroke="rgba(0,0,0,0.7)" stroke-width="1.25"/>
<line x1="370.60" y1="364.90" x2="420.30" y2="364.90" stroke="rgba(0,0,0,0.7)" stroke-width="1.25"/>
<line x1="420.30" y1="364.90" x2="470.00" y2="364.90" stroke="rgba(0,0,0,0.7)" stroke-width="1.25"/>
<line x1="470.00" y1="364.90" x2="519.00" y2="364.90" stroke="rgba(0,0,0,0.7)" stroke-width="1.25"/>
<line x1="122.50" y1="374.83" x2="172.10" y2="374.83" stroke="rgba(0,0,0,0.7)" stroke-width="1.25"/>
<line x1="172.10" y1="374.83" x2="221.80" y2="374.83" stroke="rgba(0,0,0,0.7)" stroke-width="1.25"/>
<line x1="221.80" y1="374.83" x2="271.50" y2="374.83" stroke="rgba(0,0,0,0.7)" stroke-width="1.25"/>
<line x1="271.50" y1="374.83" x2="321.10" y2="374.83" stroke="rgba(0,0,0,0.7)" stroke-width="1.25"/>
<line x1="321.10" y1="374.83" x2="370.60" y2="374.83" stroke="rgba(0,0,0,0.7)" stroke-width="1.25"/>
<line x1="370.60" y1="374.83" x2="420.30" y2="374.83" stroke="rgba(0,0,0,0.7)" stroke-width="1.25"/>
<line x1="420.30" y1="374.83" x2="470.00" y2="374.83" stroke="rgba(0,0,0,0.7)" stroke-width="1.25"/>
<line x1="470.00" y1="374.83" x2="519.00" y2="374.83" stroke="rgba(0,0,0,0.7)" stroke-width="1.25"/>
<line x1="122.50" y1="384.75" x2="172.10" y2="384.75" stroke="rgba(0,0,0,0.7)" stroke-width="1.25"/>
<line x1="172.10" y1="384.75" x2="221.80" y2="384.75" stroke="rgba(0,0,0,0.7)" stroke-width="1.25"/>
<line x1="221.80" y1="384.75" x2="271.50" y2="384.75" stroke="rgba(0,0,0,0.7)" stroke-width="1.25"/>
<line x1="271.50" y1="384.75" x2="321.10" y2="384.75" stroke="rgba(0,0,0,0.7)" stroke-width="1.25"/>
<line x1="321.10" y1="384.75" x2="370.60" y2="384.75" stroke="rgba(0,0,0,0.7)" stroke-width="1.25"/>
<line x1="370.60" y1="384.75" x2="420.30" y2="384.75" stroke="rgba(0,0,0,0.7)" stroke-width="1.25"/>
<line x1="420.30" y1="384.75" x2="470.00" y2="384.75" stroke="rgba(0,0,0,0.7)" stroke-width="1.25"/>
<line x1="470.00" y1="384.75" x2="519.00" y2="384.75" stroke="rgba(0,0,0,0.7)" stroke-width="1.25"/>
<line x1="122.50" y1="394.68" x2="172.10" y2="394.68" stroke="rgba(0,0,0,0.7)" stroke-width="1.25"/>
<line x1="172.10" y1="394.68" x2="221.80" y2="394.68" stroke="rgba(0,0,0,0.7)" stroke-width="1.25"/>
<line x1="221.80" y1="394.68" x2="271.50" y2="394.68" stroke="rgba(0,0,0,0.7)" stroke-width="1.25"/>
<line x1="271.50" y1="394.68" x2="321.10" y2="394.68" stroke="rgba(0,0,0,0.7)" stroke-width="1.25"/>
<line x1="321.10" y1="394.68" x2="370.60" y2="394.68" stroke="rgba(0,0,0,0.7)" stroke-width="1.25"/>
<line x1="370.60" y1="394.68" x2="420.30" y2="394.68" stroke="rgba(0,0,0,0.7)" stroke-width="1.25"/>
<line x1="420.30" y1="394.68" x2="470.00" y2="394.68" stroke="rgba(0,0,0,0.7)" stroke-width="1.25"/>
<line x1="470.00" y1="394.68" x2="519.00" y2="394.68" stroke="rgba(0,0,0,0.7)" stroke-width="1.25"/>
<line x1="122.50" y1="404.60" x2="172.10" y2="404.60" stroke="rgba(0,0,0,0.7)" stroke-width="1.25"/>
<line x1="172.10" y1="404.60" x2="221.80" y2="404.60" stroke="rgba(0,0,0,0.7)" stroke-width="1.25"/>
<line x1="221.80" y1="404.60" x2="271.50" y2="404.60" stroke="rgba(0,0,0,0.7)" stroke-width="1.25"/>
<line x1="271.50" y1="404.60" x2="321.10" y2="404.60" stroke="rgba(0,0,0,0.7)" stroke-width="1.25"/>
<line x1="321.10" y1="404.60" x2="370.60" y2="404.60" stroke="rgba(0,0,0,0.7)" stroke-width="1.25"/>
<line x1="370.60" y1="404.60" x2="420.30" y2="404.60" stroke="rgba(0,0,0,0.7)" stroke-width="1.25"/>
<line x1="420.30" y1="404.60" x2="470.00" y2="404.60" stroke="rgba(0,0,0,0.7)" stroke-width="1.25"/>
<line x1="470.00" y1="404.60" x2="519.00" y2="404.60" stroke="rgba(0,0,0,0.7)" stroke-width="1.25"/>
<line x1="122.50" y1="414.53" x2="172.10" y2="414.53" stroke="rgba(0,0,0,0.7)" stroke-width="1.25"/>
<line x1="172.10" y1="414.53" x2="221.80" y2="414.53" stroke="rgba(0,0,0,0.7)" stroke-width="1.25"/>
<line x1="221.80" y1="414.53" x2="271.50" y2="414.53" stroke="rgba(0,0,0,0.7)" stroke-width="1.25"/>
<line x1="271.50" y1="414.53" x2="321.10" y2="414.53" stroke="rgba(0,0,0,0.7)" stroke-width="1.25"/>
<line x1="321.10" y1="414.53" x2="370.60" y2="414.53" stroke="rgba(0,0,0,0.7)" stroke-width="1.25"/>
<line x1="370.60" y1="414.53" x2="420.30" y2="414.53" stroke="rgba(0,0,0,0.7)" stroke-width="1.25"/>
<line x1="420.30" y1="414.53" x2="470.00" y2="414.53" stroke="rgba(0,0,0,0.7)" stroke-width="1.25"/>
<line x1="470.00" y1="414.53" x2="519.00" y2="414.53" stroke="rgba(0,0,0,0.7)" stroke-width="1.25"/>
<line x1="122.50" y1="424.45" x2="172.10" y2="424.45" stroke="rgba(0,0,0,0.7)" stroke-width="1.25"/>
<line x1="172.10" y1="424.45" x2="221.80" y2="424.45" stroke="rgba(0,0,0,0.7)" stroke-width="1.25"/>
<line x1="221.80" y1="424.45" x2="271.50" y2="424.45" stroke="rgba(0,0,0,0.7)" stroke-width="1.25"/>
<line x1="271.50" y1="424.45" x2="321.10" y2="424.45" stroke="rgba(0,0,0,0.7)" stroke-width="1.25"/>
<line x1="321.10" y1="424.45" x2="370.60" y2="424.45" stroke="rgba(0,0,0,0.7)" stroke-width="1.25"/>
<line x1="370.60" y1="424.45" x2="420.30" y2="424.45" stroke="rgba(0,0,0,0.7)" stroke-width="1.25"/>
<line x1="420.30" y1="424.45" x2="470.00" y2="424.45" stroke="rgba(0,0,0,0.7)" stroke-width="1.25"/>
<line x1="470.00" y1="424.45" x2="519.00" y2="424.45" stroke="rgba(0,0,0,0.7)" stroke-width="1.25"/>
<line x1="122.50" y1="434.38" x2="172.10" y2="434.38" stroke="rgba(0,0,0,0.7)" stroke-width="1.25"/>
<line x1="172.10" y1="434.38" x2="221.80" y2="434.38" stroke="rgba(0,0,0,0.7)" stroke-width="1.25"/>
<line x1="221.80" y1="434.38" x2="271.50" y2="434.38" stroke="rgba(0,0,0,0.7)" stroke-width="1.25"/>
<line x1="271.50" y1="434.38" x2="321.10" y2="434.38" stroke="rgba(0,0,0,0.7)" stroke-width="1.25"/>
<line x1="321.10" y1="434.38" x2="370.60" y2="434.38" stroke="rgba(0,0,0,0.7)" stroke-width="1.25"/>
<line x1="370.60" y1="434.38" x2="420.30" y2="434.38" stroke="rgba(0,0,0,0.7)" stroke-width="1.25"/>
<line x1="420.30" y1="434.38" x2="470.00" y2="434.38" stroke="rgba(0,0,0,0.7)" stroke-width="1.25"/>
<line x1="470.00" y1="434.38" x2="519.00" y2="434.38" stroke="rgba(0,0,0,0.7)" stroke-width="1.25"/>
<line x1="122.50" y1="444.30" x2="172.10" y2="444.30" stroke="rgba(0,0,0,0.7)" stroke-width="1.25"/>
<line x1="172.10" y1="444.30" x2="221.80" y2="444.30" stroke="rgba(0,0,0,0.7)" stroke-width="1.25"/>
<line x1="221.80" y1="444.30" x2="271.50" y2="444.30" stroke="rgba(0,0,0,0.7)" stroke-width="1.25"/>
<line x1="271.50" y1="444.30" x2="321.10" y2="444.30" stroke="rgba(0,0,0,0.7)" stroke-width="1.25"/>
<line x1="321.10" y1="444.30" x2="370.60" y2="444.30" stroke="rgba(0,0,0,0.7)" stroke-width="1.25"/>
<line x1="370.60" y1="444.30" x2="420.30" y2="444.30" stroke="rgba(0,0,0,0.7)" stroke-width="1.25"/>
<line x1="420.30" y1="444.30" x2="470.00" y2="444.30" stroke="rgba(0,0,0,0.7)" stroke-width="1.25"/>
<line x1="470.00" y1="444.30" x2="519.00" y2="444.30" stroke="rgba(0,0,0,0.7)" stroke-width="1.25"/>
<line x1="122.50" y1="454.23" x2="172.10" y2="454.23" stroke="rgba(0,0,0,0.7)" stroke-width="1.25"/>
<line x1="172.10" y1="454.23" x2="221.80" y2="454.23" stroke="rgba(0,0,0,0.7)" stroke-width="1.25"/>
<line x1="221.80" y1="454.23" x2="271.50" y2="454.23" stroke="rgba(0,0,0,0.7)" stroke-width="1.25"/>
<line x1="271.50" y1="454.23" x2="321.10" y2="454.23" stroke="rgba(0,0,0,0.7)" stroke-width="1.25"/>
<line x1="321.10" y1="454.23" x2="370.60" y2="454.23" stroke="rgba(0,0,0,0.7)" stroke-width="1.25"/>
<line x1="370.60" y1="454.23" x2="420.30" y2="454.23" stroke="rgba(0,0,0,0.7)" stroke-width="1.25"/>
<line x1="420.30" y1="454.23" x2="470.00" y2="454.23" stroke="rgba(0,0,0,0.7)" stroke-width="1.25"/>
<line x1="470.00" y1="454.23" x2="519.00" y2="454.23" stroke="rgba(0,0,0,0.7)" stroke-width="1.25"/>
<line x1="122.50" y1="464.15" x2="172.10" y2="464.15" stroke="rgba(0,0,0,0.7)" stroke-width="1.25"/>
<line x1="172.10" y1="464.15" x2="221.80" y2="464.15" stroke="rgba(0,0,0,0.7)" stroke-width="1.25"/>
<line x1="221.80" y1="464.15" x2="271.50" y2="464.15" stroke="rgba(0,0,0,0.38)" stroke-width="1.25"/>
<line x1="271.50" y1="464.15" x2="321.10" y2="464.15" stroke="rgba(0,0,0,0.7)" stroke-width="1.25"/>
<line x1="321.10" y1="464.15" x2="370.60" y2="464.15" stroke="rgba(0,0,0,0.7)" stroke-width="1.25"/>
<line x1="370.60" y1="464.15" x2="420.30" y2="464.15" stroke="rgba(0,0,0,0.7)" stroke-width="1.25"/>
<line x1="420.30" y1="464.15" x2="470.00" y2="464.15" stroke="rgba(0,0,0,0.7)" stroke-width="1.25"/>
<line x1="470.00" y1="464.15" x2="519.00" y2="464.15" stroke="rgba(0,0,0,0.7)" stroke-width="1.25"/>
<line x1="122.50" y1="474.08" x2="172.10" y2="474.08" stroke="rgba(0,0,0,0.7)" stroke-width="1.25"/>
<line x1="172.10" y1="474.08" x2="221.80" y2="474.08" stroke="rgba(0,0,0,0.7)" stroke-width="1.25"/>
<line x1="221.80" y1="474.08" x2="271.50" y2="474.08" stroke="rgba(0,0,0,0.7)" stroke-width="1.25"/>
<line x1="271.50" y1="474.08" x2="321.10" y2="474.08" stroke="rgba(0,0,0,0.7)" stroke-width="1.25"/>
<line x1="321.10" y1="474.08" x2="370.60" y2="474.08" stroke="rgba(0,0,0,0.7)" stroke-width="1.25"/>
<line x1="370.60" y1="474.08" x2="420.30" y2="474.08" stroke="rgba(0,0,0,0.7)" stroke-width="1.25"/>
<line x1="420.30" y1="474.08" x2="470.00" y2="474.08" stroke="rgba(0,0,0,0.7)" stroke-width="1.25"/>
<line x1="470.00" y1="474.08" x2="519.00" y2="474.08" stroke="rgba(0,0,0,0.7)" stroke-width="1.25"/>
<line x1="122.50" y1="484.00" x2="172.10" y2="484.00" stroke="rgba(0,0,0,0.7)" stroke-width="1.25"/>
<line x1="172.10" y1="484.00" x2="221.80" y2="484.00" stroke="rgba(0,0,0,0.7)" stroke-width="1.25"/>
<line x1="221.80" y1="484.00" x2="271.50" y2="484.00" stroke="rgba(0,0,0,0.7)" stroke-width="1.25"/>
<line x1="271.50" y1="484.00" x2="321.10" y2="484.00" stroke="rgba(0,0,0,0.7)" stroke-width="1.25"/>
<line x1="321.10" y1="484.00" x2="370.60" y2="484.00" stroke="rgba(0,0,0,0.7)" stroke-width="1.25"/>
<line x1="370.60" y1="484.00" x2="420.30" y2="484.00" stroke="rgba(0,0,0,0.7)" stroke-width="1.25"/>
<line x1="420.30" y1="484.00" x2="470.00" y2="484.00" stroke="rgba(0,0,0,0.7)" stroke-width="1.25"/>
<line x1="470.00" y1="484.00" x2="519.00" y2="484.00" stroke="rgba(0,0,0,0.7)" stroke-width="1.25"/>
<line x1="122.50" y1="493.93" x2="172.10" y2="493.93" stroke="rgba(0,0,0,0.7)" stroke-width="1.25"/>
<line x1="172.10" y1="493.93" x2="221.80" y2="493.93" stroke="rgba(0,0,0,0.7)" stroke-width="1.25"/>
<line x1="221.80" y1="493.93" x2="271.50" y2="493.93" stroke="rgba(0,0,0,0.7)" stroke-width="1.25"/>
<line x1="271.50" y1="493.93" x2="321.10" y2="493.93" stroke="rgba(0,0,0,0.7)" stroke-width="1.25"/>
<line x1="321.10" y1="493.93" x2="370.60" y2="493.93" stroke="rgba(0,0,0,0.7)" stroke-width="1.25"/>
<line x1="370.60" y1="493.93" x2="420.30" y2="493.93" stroke="rgba(0,0,0,0.7)" stroke-width="1.25"/>
<line x1="420.30" y1="493.93" x2="470.00" y2="493.93" stroke="rgba(0,0,0,0.7)" stroke-width="1.25"/>
<line x1="470.00" y1="493.93" x2="519.00" y2="493.93" stroke="rgba(0,0,0,0.7)" stroke-width="1.25"/>
<line x1="122.50" y1="503.85" x2="172.10" y2="503.85" stroke="rgba(0,0,0,0.7)" stroke-width="1.25"/>
<line x1="172.10" y1="503.85" x2="221.80" y2="503.85" stroke="rgba(0,0,0,0.7)" stroke-width="1.25"/>
<line x1="221.80" y1="503.85" x2="271.50" y2="503.85" stroke="rgba(0,0,0,0.7)" stroke-width="1.25"/>
<line x1="271.50" y1="503.85" x2="321.10" y2="503.85" stroke="rgba(0,0,0,0.7)" stroke-width="1.25"/>
<line x1="321.10" y1="503.85" x2="370.60" y2="503.85" stroke="rgba(0,0,0,0.7)" stroke-width="1.25"/>
<line x1="370.60" y1="503.85" x2="420.30" y2="503.85" stroke="rgba(0,0,0,0.7)" stroke-width="1.25"/>
<line x1="420.30" y1="503.85" x2="470.00" y2="503.85" stroke="rgba(0,0,0,0.7)" stroke-width="1.25"/>
<line x1="470.00" y1="503.85" x2="519.00" y2="503.85" stroke="rgba(0,0,0,0.7)" stroke-width="1.25"/>
<line x1="122.50" y1="513.78" x2="172.10" y2="513.78" stroke="rgba(0,0,0,0.7)" stroke-width="1.25"/>
<line x1="172.10" y1="513.78" x2="221.80" y2="513.78" stroke="rgba(0,0,0,0.7)" stroke-width="1.25"/>
<line x1="221.80" y1="513.78" x2="271.50" y2="513.78" stroke="rgba(0,0,0,0.7)" stroke-width="1.25"/>
<line x1="271.50" y1="513.78" x2="321.10" y2="513.78" stroke="rgba(0,0,0,0.7)" stroke-width="1.25"/>
<line x1="321.10" y1="513.78" x2="370.60" y2="513.78" stroke="rgba(0,0,0,0.7)" stroke-width="1.25"/>
<line x1="370.60" y1="513.78" x2="420.30" y2="513.78" stroke="rgba(0,0,0,0.7)" stroke-width="1.25"/>
<line x1="420.30" y1="513.78" x2="470.00" y2="513.78" stroke="rgba(0,0,0,0.7)" stroke-width="1.25"/>
<line x1="470.00" y1="513.78" x2="519.00" y2="513.78" stroke="rgba(0,0,0,0.7)" stroke-width="1.25"/>
<line x1="122.50" y1="523.70" x2="172.10" y2="523.70" stroke="rgba(0,0,0,0.7)" stroke-width="1.25"/>
<line x1="172.10" y1="523.70" x2="221.80" y2="523.70" stroke="rgba(0,0,0,0.7)" stroke-width="1.25"/>
<line x1="221.80" y1="523.70" x2="271.50" y2="523.70" stroke="rgba(0,0,0,0.7)" stroke-width="1.25"/>
<line x1="271.50" y1="523.70" x2="321.10" y2="523.70" stroke="rgba(0,0,0,0.7)" stroke-width="1.25"/>
<line x1="321.10" y1="523.70" x2="370.60" y2="523.70" stroke="rgba(0,0,0,0.7)" stroke-width="1.25"/>
<line x1="370.60" y1="523.70" x2="420.30" y2="523.70" stroke="rgba(0,0,0,0.7)" stroke-width="1.25"/>
<line x1="420.30" y1="523.70" x2="470.00" y2="523.70" stroke="rgba(0,0,0,0.7)" stroke-width="1.25"/>
<line x1="470.00" y1="523.70" x2="519.00" y2="523.70" stroke="rgba(0,0,0,0.7)" stroke-width="1.25"/>
<line x1="122.50" y1="533.62" x2="172.10" y2="533.62" stroke="rgba(0,0,0,0.7)" stroke-width="1.25"/>
<line x1="172.10" y1="533.62" x2="221.80" y2="533.62" stroke="rgba(0,0,0,0.7)" stroke-width="1.25"/>
<line x1="221.80" y1="533.62" x2="271.50" y2="533.62" stroke="rgba(0,0,0,0.7)" stroke-width="1.25"/>
<line x1="271.50" y1="533.62" x2="321.10" y2="533.62" stroke="rgba(0,0,0,0.7)" stroke-width="1.25"/>
<line x1="321.10" y1="533.62" x2="370.60" y2="533.62" stroke="rgba(0,0,0,0.7)" stroke-width="1.25"/>
<line x1="370.60" y1="533.62" x2="420.30" y2="533.62" stroke="rgba(0,0,0,0.7)" stroke-width="1.25"/>
<line x1="420.30" y1="533.62" x2="470.00" y2="533.62" stroke="rgba(0,0,0,0.7)" stroke-width="1.25"/>
<line x1="470.00" y1="533.62" x2="519.00" y2="533.62" stroke="rgba(0,0,0,0.7)" stroke-width="1.25"/>
<line x1="122.50" y1="543.55" x2="172.10" y2="543.55" stroke="rgba(0,0,0,0.7)" stroke-width="1.25"/>
<line x1="172.10" y1="543.55" x2="221.80" y2="543.55" stroke="rgba(0,0,0,0.7)" stroke-width="1.25"/>
<line x1="221.80" y1="543.55" x2="271.50" y2="543.55" stroke="rgba(0,0,0,0.7)" stroke-width="1.25"/>
<line x1="271.50" y1="543.55" x2="321.10" y2="543.55" stroke="rgba(0,0,0,0.7)" stroke-width="1.25"/>
<line x1="321.10" y1="543.55" x2="370.60" y2="543.55" stroke="rgba(0,0,0,0.7)" stroke-width="1.25"/>
<line x1="370.60" y1="543.55" x2="420.30" y2="543.55" stroke="rgba(0,0,0,0.7)" stroke-width="1.25"/>
<line x1="420.30" y1="543.55" x2="470.00" y2="543.55" stroke="rgba(0,0,0,0.7)" stroke-width="1.25"/>
<line x1="470.00" y1="543.55" x2="519.00" y2="543.55" stroke="rgba(0,0,0,0.7)" stroke-width="1.25"/>
<line x1="122.50" y1="553.48" x2="172.10" y2="553.48" stroke="rgba(0,0,0,0.7)" stroke-width="1.25"/>
<line x1="172.10" y1="553.48" x2="221.80" y2="553.48" stroke="rgba(0,0,0,0.7)" stroke-width="1.25"/>
<line x1="221.80" y1="553.48" x2="271.50" y2="553.48" stroke="rgba(0,0,0,0.7)" stroke-width="1.25"/>
<line x1="271.50" y1="553.48" x2="321.10" y2="553.48" stroke="rgba(0,0,0,0.7)" stroke-width="1.25"/>
<line x1="321.10" y1="553.48" x2="370.60" y2="553.48" stroke="rgba(0,0,0,0.7)" stroke-width="1.25"/>
<line x1="370.60" y1="553.48" x2="420.30" y2="553.48" stroke="rgba(0,0,0,0.7)" stroke-width="1.25"/>
<line x1="420.30" y1="553.48" x2="470.00" y2="553.48" stroke="rgba(0,0,0,0.7)" stroke-width="1.25"/>
<line x1="470.00" y1="553.48" x2="519.00" y2="553.48" stroke="rgba(0,0,0,0.7)" stroke-width="1.25"/>
<line x1="60.5" y1="563.40" x2="519.00" y2="563.40" stroke="rgba(0,0,0,0.7)" stroke-width="1.25"/>
<line x1="60.5" y1="87.10" x2="122.50" y2="87.10" stroke="rgba(0,0,0,0.7)" stroke-width="1.25"/>
<line x1="60.5" y1="97.00" x2="122.50" y2="97.00" stroke="rgba(0,0,0,0.7)" stroke-width="1.25"/>
<line x1="60.5" y1="186.10" x2="122.50" y2="186.10" stroke="rgba(0,0,0,0.7)" stroke-width="1.25"/>
<line x1="60.5" y1="196.00" x2="122.50" y2="196.00" stroke="rgba(0,0,0,0.7)" stroke-width="1.25"/>
<line x1="60.5" y1="464.15" x2="122.50" y2="464.15" stroke="rgba(0,0,0,0.7)" stroke-width="1.25"/>
<line x1="60.5" y1="493.93" x2="122.50" y2="493.93" stroke="rgba(0,0,0,0.7)" stroke-width="1.25"/>
<line x1="60.50" y1="34" x2="60.50" y2="563.40" stroke="rgba(0,0,0,0.6)" stroke-width="1.25"/>
<line x1="122.50" y1="34" x2="122.50" y2="563.40" stroke="rgba(0,0,0,0.6)" stroke-width="1.25"/>
<line x1="172.10" y1="34" x2="172.10" y2="563.40" stroke="rgba(0,0,0,0.6)" stroke-width="1.25"/>
<line x1="221.80" y1="34" x2="221.80" y2="563.40" stroke="rgba(0,0,0,0.6)" stroke-width="1.25"/>
<line x1="271.50" y1="34" x2="271.50" y2="563.40" stroke="rgba(0,0,0,0.6)" stroke-width="1.25"/>
<line x1="321.10" y1="34" x2="321.10" y2="563.40" stroke="rgba(0,0,0,0.6)" stroke-width="1.25"/>
<line x1="370.60" y1="34" x2="370.60" y2="563.40" stroke="rgba(0,0,0,0.6)" stroke-width="1.25"/>
<line x1="420.30" y1="34" x2="420.30" y2="563.40" stroke="rgba(0,0,0,0.6)" stroke-width="1.25"/>
<line x1="470.00" y1="34" x2="470.00" y2="563.40" stroke="rgba(0,0,0,0.6)" stroke-width="1.25"/>
<line x1="519.5" y1="34" x2="519.5" y2="564.00" stroke="rgba(0,0,0,0.85)" stroke-width="1"/>
<line x1="60.5" y1="34" x2="519" y2="34" stroke="rgba(0,0,0,0.7)" stroke-width="1.25"/>
<rect x="0" y="47.0" width="519.5" height="1.85" fill="#111"/>
<rect x="0" y="244.9" width="519.5" height="1.9" fill="#111"/>
<polygon points="247.05,50.70 247.65,52.13 249.19,52.25 248.01,53.26 248.37,54.77 247.05,53.96 245.73,54.77 246.09,53.26 244.91,52.25 246.45,52.13" fill="#1a1a1a"/>
<polygon points="247.05,70.50 247.65,71.93 249.19,72.05 248.01,73.06 248.37,74.57 247.05,73.76 245.73,74.57 246.09,73.06 244.91,72.05 246.45,71.93" fill="#1a1a1a"/>
<polygon points="445.55,90.30 446.15,91.73 447.69,91.85 446.51,92.86 446.87,94.37 445.55,93.56 444.23,94.37 444.59,92.86 443.41,91.85 444.95,91.73" fill="#1a1a1a"/>
<polygon points="247.05,110.10 247.65,111.53 249.19,111.65 248.01,112.66 248.37,114.17 247.05,113.36 245.73,114.17 246.09,112.66 244.91,111.65 246.45,111.53" fill="#1a1a1a"/>
<polygon points="296.70,120.00 297.30,121.43 298.84,121.55 297.66,122.56 298.02,124.07 296.70,123.26 295.38,124.07 295.74,122.56 294.56,121.55 296.10,121.43" fill="#1a1a1a"/>
<polygon points="247.05,129.90 247.65,131.33 249.19,131.45 248.01,132.46 248.37,133.97 247.05,133.16 245.73,133.97 246.09,132.46 244.91,131.45 246.45,131.33" fill="#1a1a1a"/>
<polygon points="247.05,139.80 247.65,141.23 249.19,141.35 248.01,142.36 248.37,143.87 247.05,143.06 245.73,143.87 246.09,142.36 244.91,141.35 246.45,141.23" fill="#1a1a1a"/>
<polygon points="247.05,149.70 247.65,151.13 249.19,151.25 248.01,152.26 248.37,153.77 247.05,152.96 245.73,153.77 246.09,152.26 244.91,151.25 246.45,151.13" fill="#1a1a1a"/>
<polygon points="296.70,159.60 297.30,161.03 298.84,161.15 297.66,162.16 298.02,163.67 296.70,162.86 295.38,163.67 295.74,162.16 294.56,161.15 296.10,161.03" fill="#1a1a1a"/>
<polygon points="247.05,199.20 247.65,200.63 249.19,200.75 248.01,201.76 248.37,203.27 247.05,202.46 245.73,203.27 246.09,201.76 244.91,200.75 246.45,200.63" fill="#1a1a1a"/>
<polygon points="247.05,209.10 247.65,210.53 249.19,210.65 248.01,211.66 248.37,213.17 247.05,212.36 245.73,213.17 246.09,211.66 244.91,210.65 246.45,210.53" fill="#1a1a1a"/>
<polygon points="296.70,219.00 297.30,220.43 298.84,220.55 297.66,221.56 298.02,223.07 296.70,222.26 295.38,223.07 295.74,221.56 294.56,220.55 296.10,220.43" fill="#1a1a1a"/>
<polygon points="247.05,268.86 247.65,270.29 249.19,270.42 248.01,271.43 248.37,272.93 247.05,272.12 245.73,272.93 246.09,271.43 244.91,270.42 246.45,270.29" fill="#1a1a1a"/>
<polygon points="247.05,288.71 247.65,290.14 249.19,290.27 248.01,291.28 248.37,292.78 247.05,291.97 245.73,292.78 246.09,291.28 244.91,290.27 246.45,290.14" fill="#6a0a18"/>
<polygon points="395.85,358.19 396.45,359.62 397.99,359.74 396.81,360.75 397.17,362.26 395.85,361.45 394.53,362.26 394.89,360.75 393.71,359.74 395.25,359.62" fill="#1a1a1a"/>
<polygon points="296.70,378.04 297.30,379.47 298.84,379.59 297.66,380.60 298.02,382.11 296.70,381.30 295.38,382.11 295.74,380.60 294.56,379.59 296.10,379.47" fill="#1a1a1a"/>
<polygon points="494.90,378.04 495.50,379.47 497.04,379.59 495.86,380.60 496.22,382.11 494.90,381.30 493.58,382.11 493.94,380.60 492.76,379.59 494.30,379.47" fill="#1a1a1a"/>
<polygon points="346.25,417.74 346.85,419.17 348.39,419.29 347.21,420.30 347.57,421.81 346.25,421.00 344.93,421.81 345.29,420.30 344.11,419.29 345.65,419.17" fill="#1a1a1a"/>
<polygon points="494.90,417.74 495.50,419.17 497.04,419.29 495.86,420.30 496.22,421.81 494.90,421.00 493.58,421.81 493.94,420.30 492.76,419.29 494.30,419.17" fill="#1a1a1a"/>
<polygon points="247.05,437.59 247.65,439.02 249.19,439.14 248.01,440.15 248.37,441.66 247.05,440.85 245.73,441.66 246.09,440.15 244.91,439.14 246.45,439.02" fill="#1a1a1a"/>
<polygon points="296.70,487.21 297.30,488.64 298.84,488.77 297.66,489.78 298.02,491.28 296.70,490.48 295.38,491.28 295.74,489.78 294.56,488.77 296.10,488.64" fill="#1a1a1a"/>
<polygon points="346.25,507.06 346.85,508.49 348.39,508.62 347.21,509.63 347.57,511.13 346.25,510.33 344.93,511.13 345.29,509.63 344.11,508.62 345.65,508.49" fill="#1a1a1a"/>
<polygon points="494.90,507.06 495.50,508.49 497.04,508.62 495.86,509.63 496.22,511.13 494.90,510.33 493.58,511.13 493.94,509.63 492.76,508.62 494.30,508.49" fill="#1a1a1a"/>
<polygon points="247.05,516.99 247.65,518.42 249.19,518.54 248.01,519.55 248.37,521.06 247.05,520.25 245.73,521.06 246.09,519.55 244.91,518.54 246.45,518.42" fill="#1a1a1a"/>
<polygon points="445.55,516.99 446.15,518.42 447.69,518.54 446.51,519.55 446.87,521.06 445.55,520.25 444.23,521.06 444.59,519.55 443.41,518.54 444.95,518.42" fill="#1a1a1a"/>
<polygon points="494.90,516.99 495.50,518.42 497.04,518.54 495.86,519.55 496.22,521.06 494.90,520.25 493.58,521.06 493.94,519.55 492.76,518.54 494.30,518.42" fill="#1a1a1a"/>
<text x="91.20" y="44.30" text-anchor="middle" style="font-family:'Liberation Sans', sans-serif;font-size:10.2px;" fill="#231f20" textLength="46.00" lengthAdjust="spacingAndGlyphs" stroke="#231f20" stroke-width="0.22">Response</text>
<text x="146.40" y="44.30" text-anchor="middle" style="font-family:'Liberation Sans', sans-serif;font-size:10.2px;font-style:italic;" fill="#231f20" textLength="33.20" lengthAdjust="spacingAndGlyphs" stroke="#231f20" stroke-width="0.22">IDH1/2</text>
<text x="196.60" y="44.30" text-anchor="middle" style="font-family:'Liberation Sans', sans-serif;font-size:10.2px;font-style:italic;" fill="#231f20" textLength="33.80" lengthAdjust="spacingAndGlyphs" stroke="#231f20" stroke-width="0.22">RUNX1</text>
<text x="246.85" y="44.30" text-anchor="middle" style="font-family:'Liberation Sans', sans-serif;font-size:10.2px;font-style:italic;" fill="#231f20" textLength="26.50" lengthAdjust="spacingAndGlyphs" stroke="#231f20" stroke-width="0.22">TP53</text>
<text x="296.70" y="44.30" text-anchor="middle" style="font-family:'Liberation Sans', sans-serif;font-size:10.2px;font-style:italic;" fill="#231f20" textLength="21.40" lengthAdjust="spacingAndGlyphs" stroke="#231f20" stroke-width="0.22">FLT3</text>
<text x="347.75" y="44.30" text-anchor="middle" style="font-family:'Liberation Sans', sans-serif;font-size:10.2px;font-style:italic;" fill="#231f20" textLength="24.90" lengthAdjust="spacingAndGlyphs" stroke="#231f20" stroke-width="0.22">RAS</text>
<text x="397.45" y="44.30" text-anchor="middle" style="font-family:'Liberation Sans', sans-serif;font-size:10.2px;font-style:italic;" fill="#231f20" textLength="21.90" lengthAdjust="spacingAndGlyphs" stroke="#231f20" stroke-width="0.22">NF1</text>
<text x="446.70" y="44.30" text-anchor="middle" style="font-family:'Liberation Sans', sans-serif;font-size:10.2px;font-style:italic;" fill="#231f20" textLength="24.90" lengthAdjust="spacingAndGlyphs" stroke="#231f20" stroke-width="0.22">CBL</text>
<text x="496.15" y="44.30" text-anchor="middle" style="font-family:'Liberation Sans', sans-serif;font-size:10.2px;font-style:italic;" fill="#231f20" textLength="40.10" lengthAdjust="spacingAndGlyphs" stroke="#231f20" stroke-width="0.22">PTPN11</text>
<text x="395.20" y="11.70" text-anchor="middle" style="font-family:'Liberation Sans', sans-serif;font-size:11.0px;" fill="#231f20" textLength="77.00" lengthAdjust="spacingAndGlyphs" stroke="#231f20" stroke-width="0.22">Signaling genes</text>
<path d="M270.8,30.7 C270.8,27.2 273.2,25.1 277.5,25.1 L388.5,25.1 C392.5,25.1 394.5,23.2 395.3,19.3 C396.1,23.2 398.1,25.1 402,25.1 L512.5,25.1 C516.8,25.1 519.2,27.2 519.2,30.7" fill="none" stroke="#2a2a2a" stroke-width="1.3"/>
<text x="3.00" y="12.80" text-anchor="start" style="font-family:'Liberation Sans', sans-serif;font-size:16px;font-weight:bold;" fill="#111" textLength="11.60" lengthAdjust="spacingAndGlyphs" stroke="#231f20" stroke-width="0.22">A</text>
<text x="91.40" y="68.80" text-anchor="middle" style="font-family:'Liberation Sans', sans-serif;font-size:10.5px;" fill="#231f20" textLength="14.00" lengthAdjust="spacingAndGlyphs" stroke="#231f20" stroke-width="0.22">CR</text>
<text x="91.40" y="95.90" text-anchor="middle" style="font-family:'Liberation Sans', sans-serif;font-size:10.5px;" fill="#231f20" textLength="16.40" lengthAdjust="spacingAndGlyphs" stroke="#231f20" stroke-width="0.22">CRi</text>
<text x="91.40" y="143.10" text-anchor="middle" style="font-family:'Liberation Sans', sans-serif;font-size:10.5px;" fill="#231f20" textLength="20.60" lengthAdjust="spacingAndGlyphs" stroke="#231f20" stroke-width="0.22">CRp</text>
<text x="91.40" y="194.90" text-anchor="middle" style="font-family:'Liberation Sans', sans-serif;font-size:10.5px;" fill="#231f20" textLength="11.90" lengthAdjust="spacingAndGlyphs" stroke="#231f20" stroke-width="0.22">PR</text>
<text x="91.40" y="222.60" text-anchor="middle" style="font-family:'Liberation Sans', sans-serif;font-size:10.5px;" fill="#231f20" textLength="26.50" lengthAdjust="spacingAndGlyphs" stroke="#231f20" stroke-width="0.22">MLFS</text>
<text x="91.40" y="357.20" text-anchor="middle" style="font-family:'Liberation Sans', sans-serif;font-size:10.5px;" fill="#231f20" textLength="13.90" lengthAdjust="spacingAndGlyphs" stroke="#231f20" stroke-width="0.22">SD</text>
<text x="91.40" y="480.30" text-anchor="middle" style="font-family:'Liberation Sans', sans-serif;font-size:10.5px;" fill="#231f20" textLength="13.90" lengthAdjust="spacingAndGlyphs" stroke="#231f20" stroke-width="0.22">RD</text>
<text x="91.40" y="530.40" text-anchor="middle" style="font-family:'Liberation Sans', sans-serif;font-size:10.5px;" fill="#231f20" textLength="15.00" lengthAdjust="spacingAndGlyphs" stroke="#231f20" stroke-width="0.22">ND</text>
<text x="30.90" y="148.50" text-anchor="middle" style="font-family:'Liberation Sans', sans-serif;font-size:10.5px;" fill="#231f20" textLength="46.30" lengthAdjust="spacingAndGlyphs" stroke="#231f20" stroke-width="0.22">Response</text>
<text x="31.00" y="406.00" text-anchor="middle" style="font-family:'Liberation Sans', sans-serif;font-size:10.5px;" fill="#231f20" textLength="14.40" lengthAdjust="spacingAndGlyphs" stroke="#231f20" stroke-width="0.22">No</text>
<text x="30.80" y="419.00" text-anchor="middle" style="font-family:'Liberation Sans', sans-serif;font-size:10.5px;" fill="#231f20" textLength="42.80" lengthAdjust="spacingAndGlyphs" stroke="#231f20" stroke-width="0.22">response</text>
<text x="3.60" y="597.00" text-anchor="start" style="font-family:'Liberation Sans', sans-serif;font-size:16px;font-weight:bold;" fill="#111" textLength="9.60" lengthAdjust="spacingAndGlyphs" stroke="#231f20" stroke-width="0.22">B</text>
<text x="294.50" y="616.00" text-anchor="middle" style="font-family:'Liberation Sans', sans-serif;font-size:12px;" fill="#231f20" textLength="151.40" lengthAdjust="spacingAndGlyphs" stroke="#231f20" stroke-width="0.22">Emergent <tspan font-style="italic">TP53</tspan> mutations</text>
<line x1="99.6" y1="624" x2="99.6" y2="900.1" stroke="#111" stroke-width="1.3"/>
<line x1="95.5" y1="899.5" x2="488.8" y2="899.5" stroke="#111" stroke-width="1.3"/>
<line x1="95.8" y1="628.00" x2="99.6" y2="628.00" stroke="#111" stroke-width="1.2"/>
<text x="90.70" y="631.60" text-anchor="end" style="font-family:'Liberation Sans', sans-serif;font-size:10.3px;" fill="#231f20" stroke="#231f20" stroke-width="0.22">100</text>
<line x1="95.8" y1="673.30" x2="99.6" y2="673.30" stroke="#111" stroke-width="1.2"/>
<text x="90.70" y="676.90" text-anchor="end" style="font-family:'Liberation Sans', sans-serif;font-size:10.3px;" fill="#231f20" stroke="#231f20" stroke-width="0.22">10</text>
<line x1="95.8" y1="718.60" x2="99.6" y2="718.60" stroke="#111" stroke-width="1.2"/>
<text x="90.70" y="722.20" text-anchor="end" style="font-family:'Liberation Sans', sans-serif;font-size:10.3px;" fill="#231f20" stroke="#231f20" stroke-width="0.22">1</text>
<line x1="95.8" y1="763.90" x2="99.6" y2="763.90" stroke="#111" stroke-width="1.2"/>
<text x="90.70" y="767.50" text-anchor="end" style="font-family:'Liberation Sans', sans-serif;font-size:10.3px;" fill="#231f20" stroke="#231f20" stroke-width="0.22">0.1</text>
<line x1="95.8" y1="809.20" x2="99.6" y2="809.20" stroke="#111" stroke-width="1.2"/>
<text x="90.70" y="812.80" text-anchor="end" style="font-family:'Liberation Sans', sans-serif;font-size:10.3px;" fill="#231f20" stroke="#231f20" stroke-width="0.22">0.01</text>
<line x1="95.8" y1="854.50" x2="99.6" y2="854.50" stroke="#111" stroke-width="1.2"/>
<text x="90.70" y="858.10" text-anchor="end" style="font-family:'Liberation Sans', sans-serif;font-size:10.3px;" fill="#231f20" stroke="#231f20" stroke-width="0.22">0.001</text>
<line x1="95.8" y1="899.80" x2="99.6" y2="899.80" stroke="#111" stroke-width="1.2"/>
<text x="90.70" y="903.40" text-anchor="end" style="font-family:'Liberation Sans', sans-serif;font-size:10.3px;" fill="#231f20" stroke="#231f20" stroke-width="0.22">0.0001</text>
<line x1="99.60" y1="899.5" x2="99.60" y2="903.6" stroke="#111" stroke-width="1.2"/>
<text x="99.60" y="917.00" text-anchor="middle" style="font-family:'Liberation Sans', sans-serif;font-size:10.3px;" fill="#231f20" stroke="#231f20" stroke-width="0.22">0</text>
<line x1="196.13" y1="899.5" x2="196.13" y2="903.6" stroke="#111" stroke-width="1.2"/>
<text x="196.13" y="917.00" text-anchor="middle" style="font-family:'Liberation Sans', sans-serif;font-size:10.3px;" fill="#231f20" stroke="#231f20" stroke-width="0.22">100</text>
<line x1="292.66" y1="899.5" x2="292.66" y2="903.6" stroke="#111" stroke-width="1.2"/>
<text x="292.66" y="917.00" text-anchor="middle" style="font-family:'Liberation Sans', sans-serif;font-size:10.3px;" fill="#231f20" stroke="#231f20" stroke-width="0.22">200</text>
<line x1="389.19" y1="899.5" x2="389.19" y2="903.6" stroke="#111" stroke-width="1.2"/>
<text x="389.19" y="917.00" text-anchor="middle" style="font-family:'Liberation Sans', sans-serif;font-size:10.3px;" fill="#231f20" stroke="#231f20" stroke-width="0.22">300</text>
<line x1="485.72" y1="899.5" x2="485.72" y2="903.6" stroke="#111" stroke-width="1.2"/>
<text x="485.72" y="917.00" text-anchor="middle" style="font-family:'Liberation Sans', sans-serif;font-size:10.3px;" fill="#231f20" stroke="#231f20" stroke-width="0.22">400</text>
<text x="292.90" y="934.20" text-anchor="middle" style="font-family:'Liberation Sans', sans-serif;font-size:12.3px;" fill="#231f20" textLength="51.00" lengthAdjust="spacingAndGlyphs" stroke="#231f20" stroke-width="0.3">Time (days)</text>
<text transform="translate(50.8,782.5) rotate(-90)" style="font-family:'Liberation Sans', sans-serif;font-size:12.3px;" fill="#231f20" stroke="#231f20" stroke-width="0.3" textLength="41.2" lengthAdjust="spacingAndGlyphs"><tspan font-style="italic">TP53</tspan> VAF</text>
<line x1="99.6" y1="736.50" x2="276.70" y2="630.40" stroke="#0d0d0d" stroke-width="1.62"/>
<line x1="99.6" y1="807.20" x2="132.30" y2="658.30" stroke="#0d0d0d" stroke-width="1.62"/>
<line x1="99.6" y1="803.30" x2="130.80" y2="691.50" stroke="#0d0d0d" stroke-width="1.62"/>
<line x1="99.6" y1="841.00" x2="152.70" y2="671.00" stroke="#0d0d0d" stroke-width="1.62"/>
<line x1="99.6" y1="771.20" x2="167.60" y2="714.60" stroke="#0d0d0d" stroke-width="1.62"/>
<line x1="99.6" y1="841.00" x2="190.40" y2="708.70" stroke="#0d0d0d" stroke-width="1.62"/>
<line x1="99.6" y1="841.00" x2="190.40" y2="720.70" stroke="#0d0d0d" stroke-width="1.62"/>
<line x1="99.6" y1="805.40" x2="213.30" y2="704.30" stroke="#0d0d0d" stroke-width="1.62"/>
<line x1="99.6" y1="858.00" x2="213.30" y2="708.70" stroke="#0d0d0d" stroke-width="1.62"/>
<line x1="99.6" y1="861.00" x2="213.10" y2="716.80" stroke="#0d0d0d" stroke-width="1.62"/>
<line x1="99.6" y1="766.90" x2="276.70" y2="688.50" stroke="#0d0d0d" stroke-width="1.62"/>
<line x1="99.6" y1="752.30" x2="324.30" y2="715.10" stroke="#0d0d0d" stroke-width="1.62"/>
<line x1="99.6" y1="763.80" x2="340.10" y2="681.40" stroke="#0d0d0d" stroke-width="1.62"/>
<line x1="99.6" y1="794.90" x2="340.50" y2="699.30" stroke="#0d0d0d" stroke-width="1.62"/>
<line x1="99.6" y1="781.60" x2="371.80" y2="692.80" stroke="#0d0d0d" stroke-width="1.62"/>
<line x1="99.6" y1="771.20" x2="371.80" y2="712.70" stroke="#0d0d0d" stroke-width="1.62"/>
<line x1="99.6" y1="841.00" x2="417.80" y2="654.20" stroke="#0d0d0d" stroke-width="1.62"/>
<line x1="99.6" y1="861.00" x2="433.20" y2="657.80" stroke="#0d0d0d" stroke-width="1.62"/>
<line x1="99.6" y1="766.90" x2="433.20" y2="687.10" stroke="#0d0d0d" stroke-width="1.62"/>
<line x1="99.6" y1="855.50" x2="433.20" y2="690.50" stroke="#0d0d0d" stroke-width="1.62"/>
<line x1="99.6" y1="858.00" x2="433.20" y2="693.70" stroke="#0d0d0d" stroke-width="1.62"/>
<line x1="99.6" y1="858.00" x2="418.20" y2="722.70" stroke="#0d0d0d" stroke-width="1.62"/>
<circle cx="99.6" cy="736.50" r="3.5" fill="#151515"/>
<circle cx="99.6" cy="752.30" r="3.5" fill="#151515"/>
<circle cx="99.6" cy="763.80" r="3.5" fill="#151515"/>
<circle cx="99.6" cy="766.90" r="3.5" fill="#151515"/>
<circle cx="99.6" cy="771.20" r="3.5" fill="#151515"/>
<circle cx="99.6" cy="781.60" r="3.5" fill="#151515"/>
<circle cx="99.6" cy="794.90" r="3.5" fill="#151515"/>
<circle cx="99.6" cy="803.30" r="3.5" fill="#151515"/>
<circle cx="99.6" cy="805.40" r="3.5" fill="#151515"/>
<circle cx="99.6" cy="807.20" r="3.5" fill="#151515"/>
<circle cx="99.6" cy="841.00" r="3.5" fill="#151515"/>
<circle cx="99.6" cy="855.50" r="3.5" fill="#151515"/>
<circle cx="99.6" cy="858.00" r="3.5" fill="#151515"/>
<circle cx="99.6" cy="861.00" r="3.5" fill="#151515"/>
<circle cx="99.6" cy="864.00" r="3.5" fill="#151515"/>
<circle cx="276.70" cy="630.40" r="3.5" fill="#151515"/>
<circle cx="132.30" cy="658.30" r="3.5" fill="#151515"/>
<circle cx="130.80" cy="691.50" r="3.5" fill="#151515"/>
<circle cx="152.70" cy="671.00" r="3.5" fill="#151515"/>
<circle cx="167.60" cy="714.60" r="3.5" fill="#151515"/>
<circle cx="190.40" cy="708.70" r="3.5" fill="#151515"/>
<circle cx="190.40" cy="720.70" r="3.5" fill="#151515"/>
<circle cx="213.30" cy="704.30" r="3.5" fill="#151515"/>
<circle cx="213.30" cy="708.70" r="3.5" fill="#151515"/>
<circle cx="276.70" cy="688.50" r="3.5" fill="#151515"/>
<circle cx="324.30" cy="715.10" r="3.5" fill="#151515"/>
<circle cx="340.10" cy="681.40" r="3.5" fill="#151515"/>
<circle cx="371.80" cy="692.80" r="3.5" fill="#151515"/>
<circle cx="371.80" cy="712.70" r="3.5" fill="#151515"/>
<circle cx="417.80" cy="654.20" r="3.5" fill="#151515"/>
<circle cx="433.20" cy="657.80" r="3.5" fill="#151515"/>
<circle cx="433.20" cy="687.10" r="3.5" fill="#151515"/>
<circle cx="433.20" cy="690.50" r="3.5" fill="#151515"/>
<circle cx="433.20" cy="693.70" r="3.5" fill="#151515"/>
<circle cx="418.20" cy="722.70" r="3.5" fill="#151515"/>
<circle cx="346.50" cy="698.90" r="3.5" fill="#151515"/>
<circle cx="213.10" cy="716.80" r="3.5" fill="#c8102e"/>
<circle cx="340.50" cy="699.30" r="3.5" fill="#c8102e"/>
<circle cx="346.30" cy="681.40" r="3.5" fill="#c8102e"/>
</svg>
</body></html>
